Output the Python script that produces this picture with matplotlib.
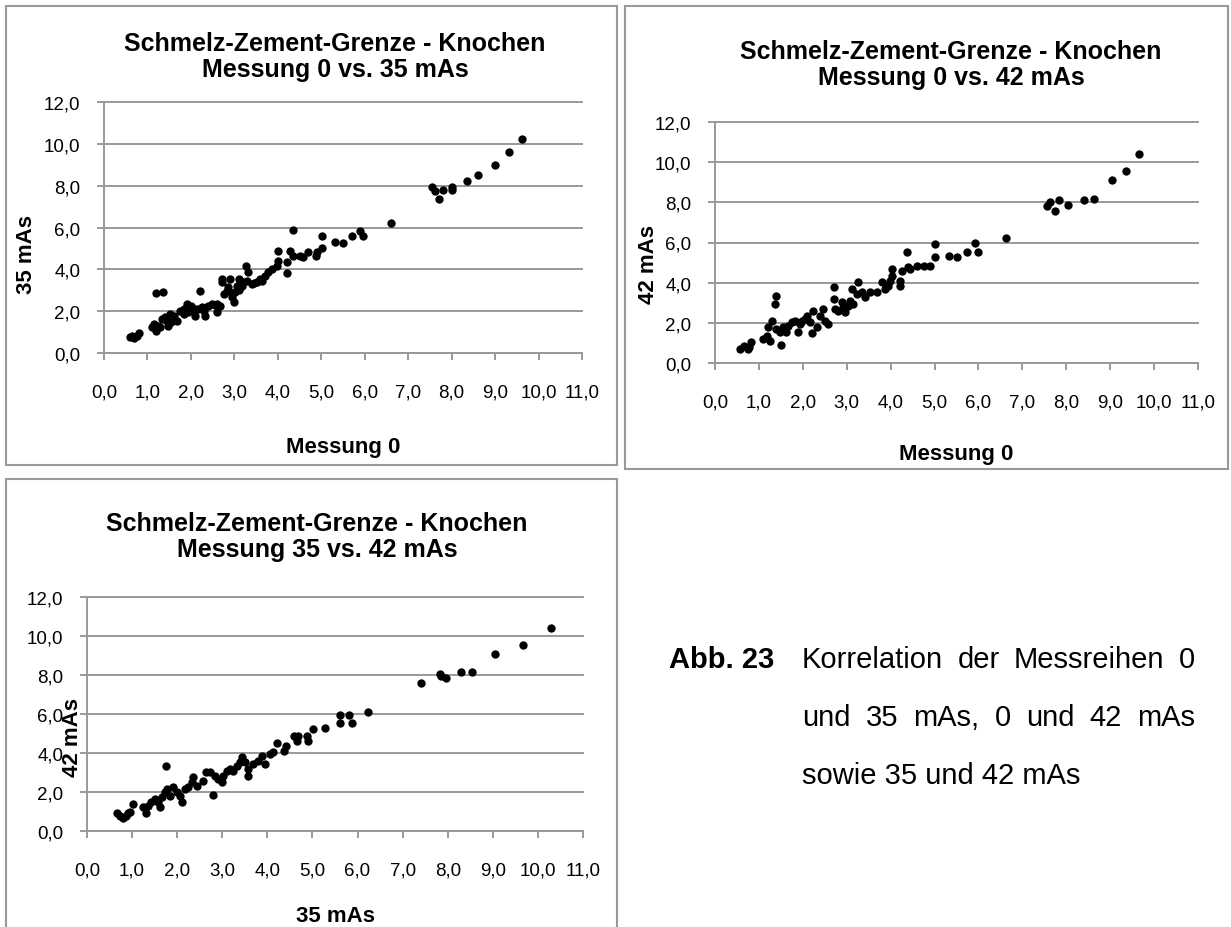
import matplotlib
matplotlib.use('Agg')
import matplotlib.pyplot as plt
from matplotlib.patches import Rectangle

# Messung 0 vs. 35 mAs
p1_x = [0.60, 0.68, 0.75, 0.81, 0.65, 1.20, 1.35, 1.10, 1.20, 1.25, 1.33, 1.40, 1.48, 1.52, 1.15, 1.30,
        1.45, 1.55, 1.60, 1.67, 1.75, 1.83, 1.90, 1.94, 1.98, 2.06, 2.09, 1.85, 2.00, 2.10,
        2.17, 2.22, 2.32, 2.40, 2.48, 2.59, 2.67, 2.25, 2.30, 2.55, 2.60,
        2.71, 2.71, 2.75, 2.82, 2.86, 2.90, 2.94, 2.99, 3.01, 3.05, 3.11, 3.17, 3.21, 2.95, 3.10,
        3.26, 3.32, 3.40, 3.51, 3.63, 3.70, 3.78, 3.86, 3.15, 3.30, 3.45, 3.60,
        3.97, 4.01, 4.01, 4.20, 4.20, 4.28, 4.36, 4.51, 4.59, 4.70, 4.89, 4.91, 5.01, 5.01, 4.36,
        5.32, 5.51, 5.70, 5.89, 5.95, 6.61,
        7.55, 7.62, 7.71, 7.80, 8.00, 8.00, 8.35, 8.60, 9.00, 9.31, 9.61]
p1_y = [0.75, 0.70, 0.80, 0.96, 0.82, 2.85, 2.90, 1.23, 1.07, 1.31, 1.63, 1.71, 1.31, 1.87, 1.40, 1.25,
        1.55, 1.50, 1.75, 1.55, 2.03, 2.10, 2.34, 1.95, 2.18, 2.03, 1.79, 1.85, 2.25, 2.10,
        2.10, 2.98, 1.79, 2.26, 2.34, 1.95, 2.26, 2.20, 2.00, 2.30, 2.35,
        3.54, 3.38, 2.82, 2.98, 3.14, 3.54, 2.66, 2.42, 2.90, 3.22, 3.54, 3.22, 3.38, 2.85, 3.00,
        4.15, 3.89, 3.30, 3.38, 3.46, 3.70, 3.86, 4.02, 3.40, 3.45, 3.35, 3.55,
        4.18, 4.90, 4.42, 4.34, 3.83, 4.90, 4.66, 4.66, 4.58, 4.85, 4.63, 4.82, 5.01, 5.58, 5.89,
        5.30, 5.26, 5.61, 5.85, 5.61, 6.22,
        7.94, 7.75, 7.37, 7.80, 7.93, 7.77, 8.24, 8.52, 9.01, 9.63, 10.25]

# Messung 0 vs. 42 mAs
p2_x = [0.58, 0.65, 0.76, 0.81, 0.78, 1.09, 1.18, 1.25, 1.29, 1.37, 1.40, 1.21,
        1.40, 1.48, 1.50, 1.56, 1.62, 1.67, 1.75, 1.82, 1.90, 1.94, 1.97,
        2.05, 2.09, 2.16, 2.20, 2.24, 2.32, 2.39, 2.47, 2.58, 2.51,
        2.70, 2.70, 2.73, 2.81, 2.89, 2.92, 2.96, 3.04, 3.08, 3.11, 3.15, 3.23, 3.26, 3.34, 3.42,
        3.53, 3.68, 3.80, 3.87, 3.95, 4.02, 4.02, 3.99, 4.21, 4.21, 4.25, 4.37, 4.40, 4.43,
        4.59, 4.75, 4.90, 5.01, 5.01, 5.32, 5.52, 5.73, 5.92, 5.98, 6.63,
        7.57, 7.63, 7.74, 7.84, 8.03, 8.40, 8.64, 9.04, 9.35, 9.65]
p2_y = [0.70, 0.86, 0.70, 1.03, 0.78, 1.19, 1.36, 1.11, 2.11, 2.94, 3.35, 1.77,
        1.69, 1.53, 0.90, 1.77, 1.53, 1.86, 2.02, 2.11, 1.56, 1.94, 2.11,
        2.19, 2.35, 2.02, 1.49, 2.60, 1.77, 2.35, 2.69, 1.94, 2.11,
        3.76, 3.18, 2.69, 2.60, 3.02, 2.77, 2.55, 2.85, 3.10, 3.68, 2.94, 3.43, 4.01, 3.52, 3.27,
        3.52, 3.52, 4.01, 3.68, 3.85, 4.68, 4.35, 4.10, 4.10, 3.85, 4.59, 5.51, 4.76, 4.68,
        4.84, 4.84, 4.84, 5.26, 5.92, 5.31, 5.26, 5.51, 5.97, 5.51, 6.20,
        7.83, 8.04, 7.58, 8.11, 7.88, 8.14, 8.16, 9.09, 9.54, 10.41]

# 35 vs. 42 mAs
p3_x = [0.67, 0.73, 0.79, 0.86, 0.95, 1.03, 0.92,
        1.25, 1.31, 1.36, 1.43, 1.51, 1.58, 1.66, 1.62, 1.73, 1.78, 1.84, 1.75,
        1.91, 1.99, 2.06, 2.10, 2.17, 2.25, 2.32, 2.36, 2.43,
        2.58, 2.65, 2.73, 2.79, 2.84, 2.91, 2.99, 3.02, 3.10, 3.17, 3.24, 3.32, 3.39, 3.43, 3.50, 3.58, 3.58,
        3.69, 3.80, 3.87, 3.95, 4.06, 4.13, 4.21, 4.37, 4.41, 4.58, 4.65, 4.69, 4.87, 4.91, 5.02, 5.28,
        5.61, 5.61, 5.82, 5.87, 6.24,
        7.40, 7.83, 7.86, 7.96, 8.29, 8.54, 9.04, 9.67, 10.30]
p3_y = [0.92, 0.79, 0.65, 0.79, 0.99, 1.38, 0.92,
        1.21, 0.92, 1.30, 1.47, 1.64, 1.47, 1.73, 1.21, 1.98, 2.15, 1.81, 3.32,
        2.24, 1.98, 1.81, 1.50, 2.15, 2.24, 2.50, 2.75, 2.32,
        2.58, 3.01, 3.04, 1.85, 2.84, 2.67, 2.50, 2.84, 3.10, 3.18, 3.10, 3.35, 3.52, 3.78, 3.52, 2.84, 3.18,
        3.44, 3.61, 3.86, 3.44, 3.95, 4.03, 4.50, 4.12, 4.38, 4.89, 4.63, 4.89, 4.89, 4.63, 5.23, 5.26,
        5.95, 5.52, 5.95, 5.52, 6.12,
        7.59, 8.05, 7.96, 7.83, 8.14, 8.17, 9.09, 9.54, 10.39]

x_ticks = list(range(0, 12))
y_ticks = list(range(0, 13, 2))

W, H = 1231, 928
GREY = '#999999'
plt.rcParams['font.family'] = ['Liberation Sans', 'DejaVu Sans']

fig = plt.figure(figsize=(W / 100, H / 100), dpi=100)


def fx(x):
    return x / W


def fy(y):
    return 1 - y / H


def comma(v):
    return f'{v:.1f}'.replace('.', ',')


def box(x0, y0, x1, y1):
    fig.add_artist(Rectangle((fx(x0), fy(y1)), (x1 - x0) / W, (y1 - y0) / H,
                             transform=fig.transFigure, fill=False, ec=GREY, lw=1.5))


def panel(left, top, right, bottom, xs, ys):
    ax = fig.add_axes([fx(left), fy(bottom), (right - left) / W, (bottom - top) / H])
    ax.scatter(xs, ys, s=36, color='black', linewidths=0, zorder=3, clip_on=False)
    ax.set_xlim(0, 11)
    ax.set_ylim(0, 12)
    ax.set_xticks(x_ticks)
    ax.set_xticklabels([comma(v) for v in x_ticks])
    ax.set_yticks(y_ticks)
    ax.set_yticklabels([comma(v) for v in y_ticks])
    ax.grid(axis='y', color=GREY, lw=1.4)
    for gl in ax.get_ygridlines():
        gl.set_clip_on(False)
    ax.set_axisbelow(True)
    for s in ('top', 'right'):
        ax.spines[s].set_visible(False)
    for s in ('left', 'bottom'):
        ax.spines[s].set_color(GREY)
        ax.spines[s].set_linewidth(1.4)
    ax.tick_params(direction='out', length=5, width=1.4, color=GREY,
                   labelcolor='black', labelsize=13.5)
    ax.tick_params(axis='y', pad=12)
    ax.tick_params(axis='x', pad=17)
    ax.patch.set_alpha(0)
    return ax


# panel frames
box(6, 7, 617, 466)
box(625, 7, 1228, 470)
box(6, 480, 617, 945)

panel(104, 103, 582, 354, p1_x, p1_y)
panel(715, 123, 1198, 364, p2_x, p2_y)
panel(87, 598, 583, 832, p3_x, p3_y)

tkw = dict(ha='center', va='center', fontsize=18, fontweight='bold', linespacing=1.15)
fig.text(fx(335), fy(57), 'Schmelz-Zement-Grenze - Knochen\nMessung 0 vs. 35 mAs', **tkw)
fig.text(fx(951), fy(65), 'Schmelz-Zement-Grenze - Knochen\nMessung 0 vs. 42 mAs', **tkw)
fig.text(fx(317), fy(537), 'Schmelz-Zement-Grenze - Knochen\nMessung 35 vs. 42 mAs', **tkw)

lkw = dict(ha='center', va='center', fontsize=16, fontweight='bold')
fig.text(fx(343), fy(447), 'Messung 0', **lkw)
fig.text(fx(956), fy(455), 'Messung 0', **lkw)
fig.text(fx(335), fy(917), '35 mAs', **lkw)
fig.text(fx(27), fy(255), '35 mAs', rotation=90, **lkw)
fig.text(fx(648), fy(265), '42 mAs', rotation=90, **lkw)
fig.text(fx(72), fy(738), '42 mAs', rotation=90, **lkw)

# caption, first two lines justified
fig.text(fx(669), fy(660), 'Abb. 23', fontsize=21, fontweight='bold', va='center')
cap_lines = [('Korrelation der Messreihen 0', 660, True),
             ('und 35 mAs, 0 und 42 mAs', 718, True),
             ('sowie 35 und 42 mAs', 776, False)]
x_start, x_end = 802, 1195
fig.canvas.draw()
renderer = fig.canvas.get_renderer()
for line, y, justify in cap_lines:
    if not justify:
        fig.text(fx(x_start), fy(y), line, fontsize=21, va='center')
        continue
    words = [fig.text(fx(x_start), fy(y), w, fontsize=21, va='center') for w in line.split()]
    widths = [t.get_window_extent(renderer).width for t in words]
    gap = (x_end - x_start - sum(widths)) / (len(words) - 1)
    x = x_start
    for t, w in zip(words, widths):
        t.set_x(fx(x))
        x += w + gap

fig.savefig('out.png', dpi=100)
